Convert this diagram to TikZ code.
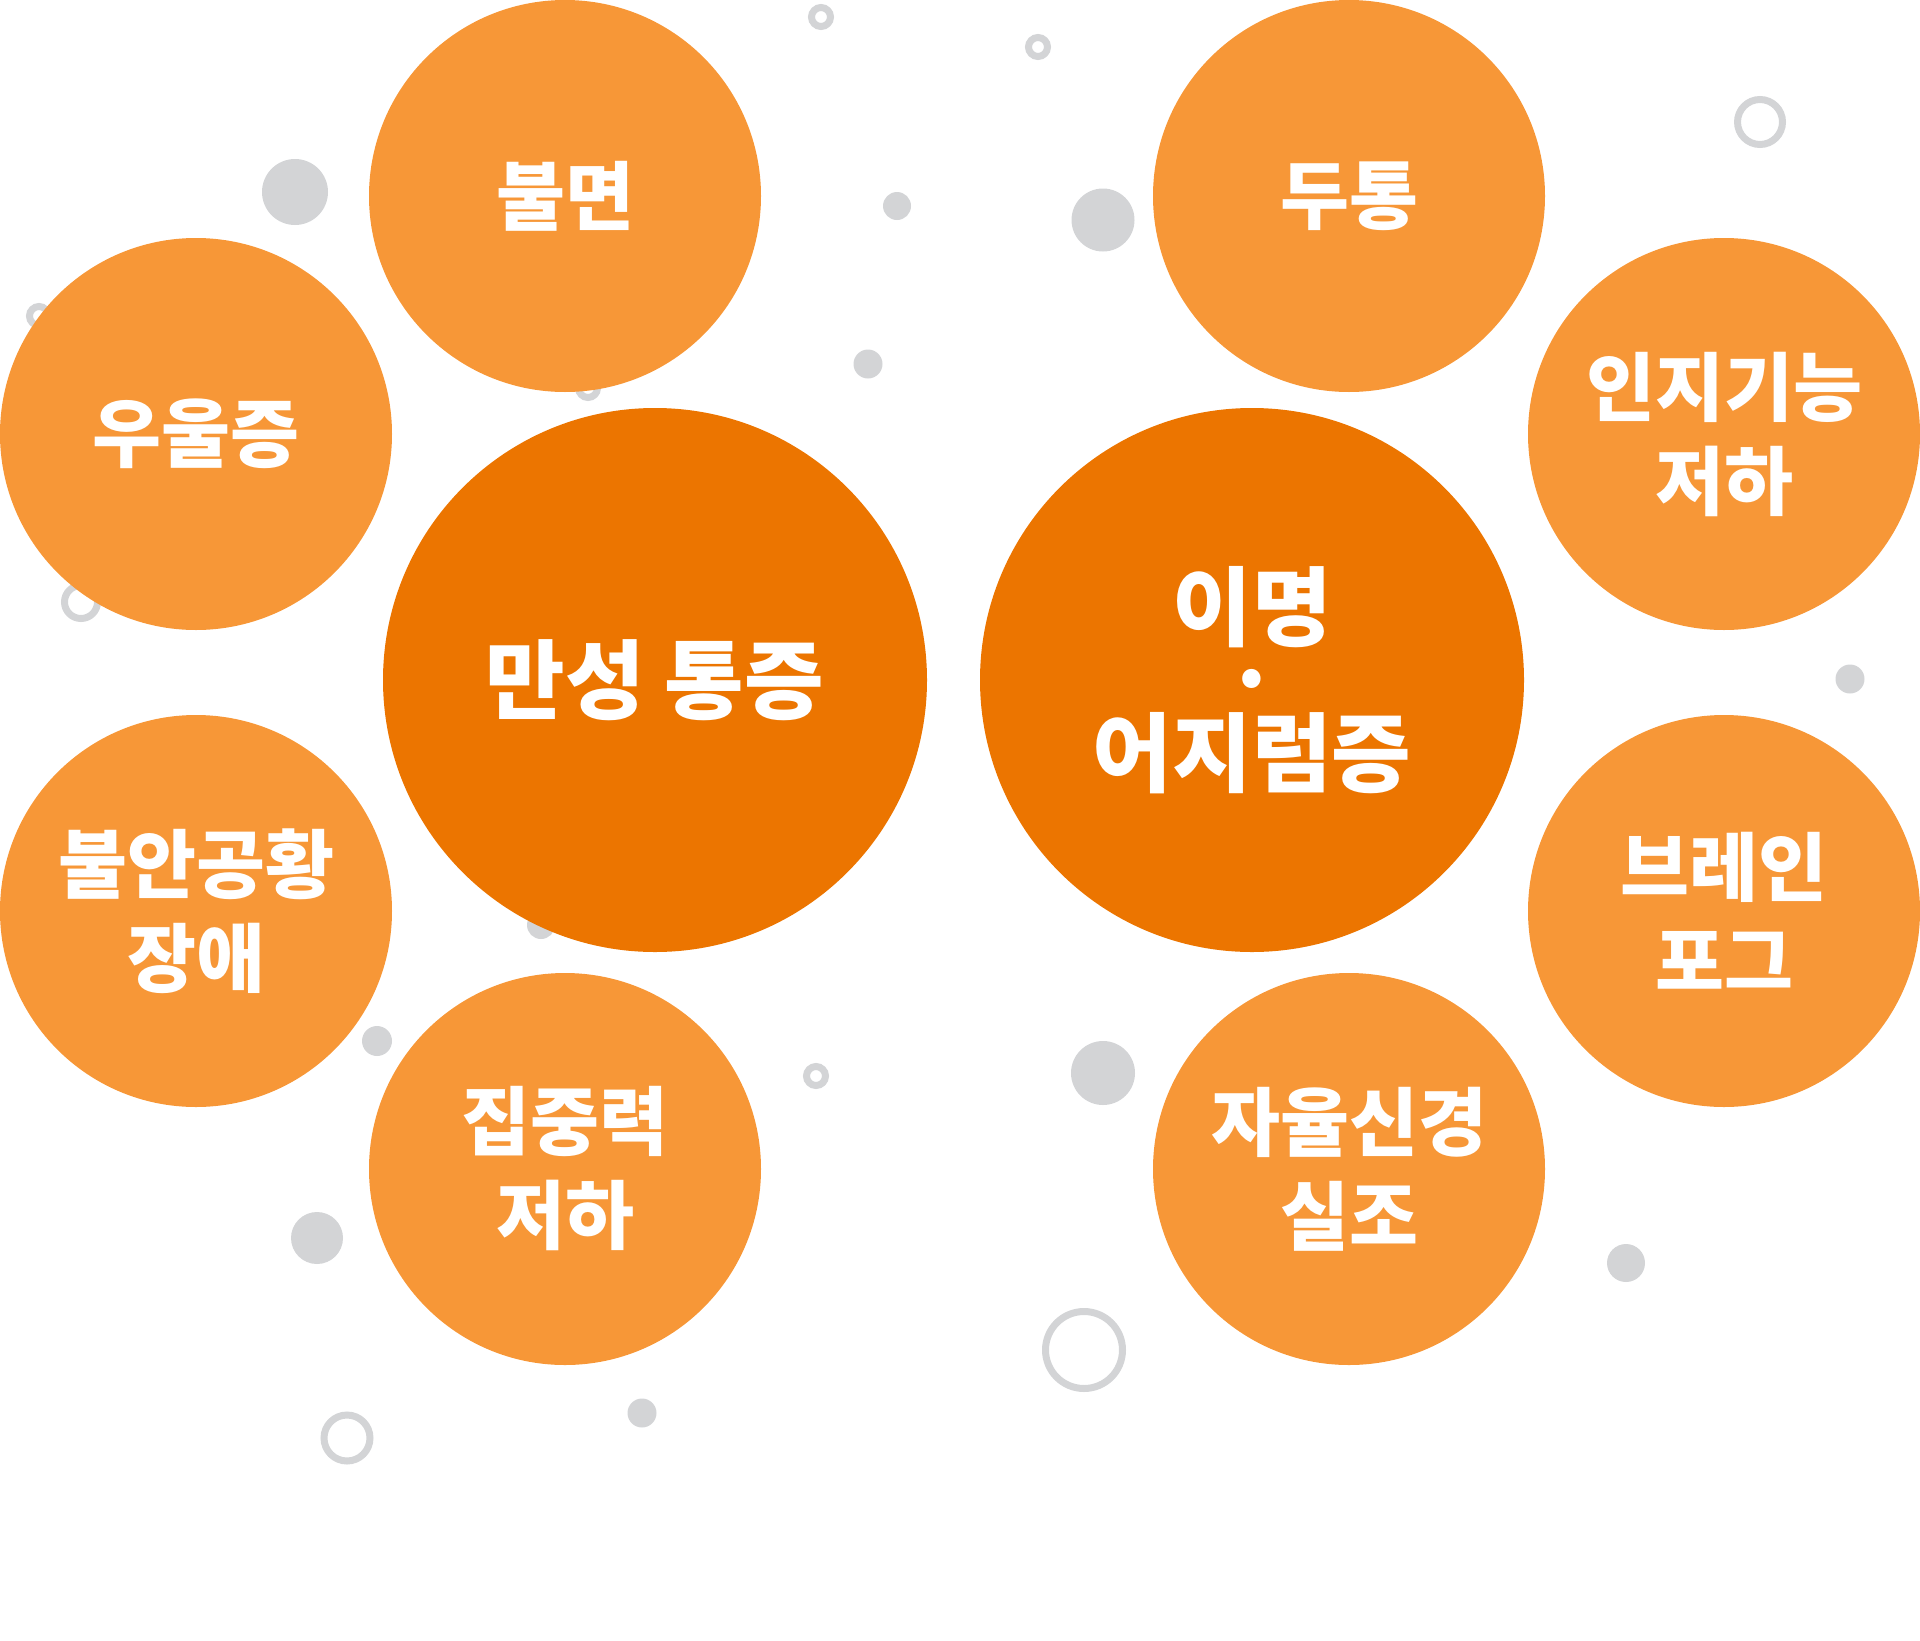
\documentclass[tikz,border=0pt]{standalone}
\usepackage{fontspec}
\newfontfamily\kr{Noto Sans CJK KR}
\definecolor{lightor}{HTML}{F79737}
\definecolor{darkor}{HTML}{EC7500}
\definecolor{dotgray}{HTML}{D3D4D6}
\tikzset{
  smallc/.style={circle, fill=lightor, minimum size=392pt, inner sep=0pt, align=center,
    text=white, font=\kr\bfseries\fontsize{75pt}{94pt}\selectfont},
  bigc/.style={circle, fill=darkor, minimum size=544pt, inner sep=0pt, align=center,
    text=white, font=\kr\bfseries\fontsize{86.5pt}{72.5pt}\selectfont},
  gdot/.style={circle, fill=dotgray, inner sep=0pt},
  gring/.style={circle, draw=dotgray, line width=7pt, inner sep=0pt},
}
\begin{document}
\begin{tikzpicture}[x=1pt,y=-1pt]
\useasboundingbox (0,0) rectangle (1920,1641);
% gray decorations
\node[gdot, minimum size=66pt] (d1) at (295,192) {};
\node[gring, minimum size=19pt] (r1) at (821,17) {};
\node[gring, minimum size=19pt] (r2) at (1038,47) {};
\node[gdot, minimum size=28pt] (d2) at (897,206) {};
\node[gdot, minimum size=63pt] (d3) at (1103,220) {};
\node[gring, minimum size=45pt] (r3) at (1760,122) {};
\node[gring, minimum size=19pt] (r4) at (39,316) {};
\node[gring, minimum size=19pt] (r5) at (588,388) {};
\node[gdot, minimum size=29pt] (d4) at (868,364) {};
\node[gring, minimum size=33pt] (r6) at (81,602) {};
\node[gdot, minimum size=29pt] (d5) at (1850,679) {};
\node[gdot, minimum size=28pt] (d6) at (541,925) {};
\node[gdot, minimum size=30pt] (d7) at (377,1041) {};
\node[gring, minimum size=19pt] (r7) at (816,1076) {};
\node[gdot, minimum size=64pt] (d8) at (1103,1073) {};
\node[gdot, minimum size=52pt] (d9) at (317,1238) {};
\node[gdot, minimum size=38pt] (d10) at (1626,1263) {};
\node[gring, minimum size=77pt] (r8) at (1084,1350) {};
\node[gdot, minimum size=29pt] (d11) at (642,1413) {};
\node[gring, minimum size=46pt] (r9) at (347,1438) {};
% orange circles
\node[smallc] (bulmyeon) at (565,196) {불면};
\node[smallc] (dutong) at (1349,196) {두통};
\node[smallc] (uul) at (196,434) {우울증};
\node[smallc] (inji) at (1724,434) {인지기능\\저하};
\node[smallc] (buran) at (196,911) {불안공황\\장애};
\node[smallc] (brain) at (1724,911) {브레인\\포그};
\node[smallc] (jipjung) at (565,1169) {집중력\\저하};
\node[smallc] (jayul) at (1349,1169) {자율신경\\실조};
\node[bigc] (mansung) at (655,680) {만성 통증};
\node[bigc] (imyeong) at (1252,680) {이명\\·\\어지럼증};
\end{tikzpicture}
\end{document}
